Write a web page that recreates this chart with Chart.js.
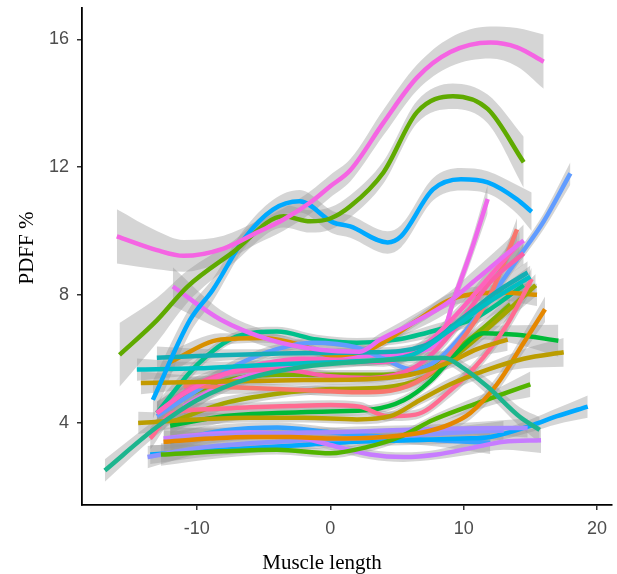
<!DOCTYPE html>
<html>
<head>
<meta charset="utf-8">
<style>
  html, body { margin: 0; padding: 0; background: #fff; }
  #chart { display: block; }
</style>
<script src="https://cdn.jsdelivr.net/npm/chart.js@4.4.1/dist/chart.umd.min.js"></script>
</head>
<body>
<canvas id="chart" width="617" height="574"></canvas>
<script>
"use strict";

// axis ticks
const xTicks = [-10, 0, 10, 20];
const yTicks = [4, 8, 12, 16];
const xTitle = "Muscle length";
const yTitle = "PDFF %";

// one entry per subject curve (loess fit + grey confidence band)
const lineColors = [
  "#F564E3", "#5FAA00", "#00A9FF", "#E76BF3",
  "#1DB58E", "#00BFC4", "#14AEB4", "#C49A00",
  "#BB9D00", "#FF62BC", "#FA5FA8", "#FF6C91",
  "#F8766D", "#E58700", "#53B400", "#00BA38",
  "#A58AFF", "#C77CFF", "#8B93FF", "#00A9FF",
  "#35A2FF", "#619CFF", "#A3A500", "#D89000",
  "#00C08B", "#EF67EB", "#7CAE00"
];

const lineX = [
  [-16, -13, -11, -8, -5.5, -3.5, -1.5, 0, 1.5, 4, 6.5, 9, 12, 14, 16],
  [-15.8, -13, -10.7, -7.3, -3.5, -1.5, 0, 1.5, 4, 6.5, 9.2, 11.8, 14.5],
  [-13.3, -10.5, -8.8, -6.5, -4.3, -2.3, 0.2, 1.5, 4.3, 5.3, 7.7, 9.8, 11.8, 14, 15.1],
  [-11.8, -8.2, -4.5, -0.75, 2.2, 3.75, 6.2, 8.8, 11, 13, 14.5],
  [-16.9, -13, -10, -6, -2, 2, 6, 8.5, 10, 11.8, 14.2, 15.7],
  [-14.5, -10, -6, -2, 2, 6, 9, 12, 15],
  [-13, -9, -5, -1, 3, 7, 10, 12.5, 14.8],
  [-14.2, -10, -6, -2, 2, 6, 9, 11, 13.3],
  [-14.4, -10, -6, -2, 2, 4.5, 6.7, 9, 11.8, 14.5, 17.5],
  [-13, -11, -8, -5, -2, 1, 4, 7, 9.5, 12, 14.2],
  [-13, -10, -7, -3.75, 0, 3, 6.2, 8, 10, 12, 14.5],
  [-13.5, -11.8, -9, -6, -3, 0, 2.2, 4.3, 6.4, 9, 11.5, 13.3, 15.1],
  [-11, -7, -4, -1, 2, 4.5, 7, 9.5, 12, 14],
  [-12.5, -9, -6, -3, 0, 4, 7, 9, 10.5, 12.5, 14.5, 16.1],
  [-12.7, -8, -4, 0, 2.8, 5.2, 7.7, 10.3, 12.7, 15],
  [-12, -8, -4, 0, 3, 5.5, 7.5, 9.5, 11.5, 14, 17.1],
  [-12, -8, -4, 0, 4, 8, 11, 14.8],
  [-12.5, -9, -6, -3, 0, 3, 5.5, 8, 10.5, 13, 15.8],
  [-13.7, -10, -6, -2, 2, 6, 10, 13],
  [-13.5, -10, -6, -2, 2, 6, 10, 12, 15, 17, 19.3],
  [-12, -8, -4, 0, 4, 8, 12],
  [-13, -10, -7, -4, -1.3, 2, 4, 6.2, 8, 10, 12, 14, 16, 18],
  [-12, -8, -4, 0, 4, 7, 10, 12.5, 15.4],
  [-12, -8.2, -5, -2, 0, 3, 6.5, 9, 12.7, 15.5],
  [-13, -10, -7, -4, -1, 2, 5, 8, 11, 14.5],
  [-11, -8, -4, 0, 3, 6, 8.25, 9.3, 10.5, 11.8],
  [-12, -8, -4, 0, 4, 8, 11, 13.5]
];

const lineY = [
  [9.83, 9.4, 9.22, 9.45, 9.95, 10.36, 10.89, 11.4, 11.9, 13.4, 14.8, 15.6, 15.9, 15.75, 15.3],
  [6.12, 7.2, 8.26, 9.33, 10.46, 10.3, 10.39, 10.77, 11.84, 13.72, 14.22, 13.82, 12.15],
  [4.71, 7.22, 8.16, 9.73, 10.67, 10.93, 10.27, 10.14, 9.64, 9.83, 11.3, 11.62, 11.52, 10.99, 10.6],
  [8.26, 7.22, 6.59, 6.28, 6.22, 6.6, 7.12, 7.75, 8.5, 9.2, 9.7],
  [2.5, 3.86, 4.7, 5.4, 5.75, 5.9, 6.0, 6.03, 5.7, 5.12, 4.18, 3.77],
  [5.66, 5.7, 5.78, 5.86, 5.92, 6.1, 6.9, 7.8, 8.57],
  [6.03, 6.1, 6.15, 6.18, 6.2, 6.4, 7.3, 8.1, 8.7],
  [5.24, 5.27, 5.3, 5.33, 5.35, 5.5, 5.9, 6.3, 6.6],
  [3.99, 4.1, 4.15, 4.15, 4.1, 4.2, 4.7, 5.2, 5.66, 6.0, 6.2],
  [4.3, 4.9, 5.5, 5.85, 6.0, 5.95, 5.9, 6.4, 7.4, 8.6, 9.64],
  [4.3, 5.2, 5.6, 5.66, 5.45, 5.4, 5.7, 6.3, 7.3, 8.4, 9.3],
  [3.5, 4.3, 4.42, 4.48, 4.52, 4.55, 4.5, 4.2, 4.25, 5.0, 6.05, 7.1, 8.5],
  [5.15, 5.1, 5.05, 5.0, 4.95, 5.0, 5.4, 6.4, 8.0, 10.05],
  [3.4, 3.5, 3.55, 3.55, 3.5, 3.55, 3.7, 3.95, 4.3, 5.2, 6.5, 7.55],
  [3.0, 3.1, 3.15, 3.04, 3.24, 3.55, 4.08, 4.5, 4.86, 5.2],
  [3.9, 4.2, 4.3, 4.35, 4.4, 4.7, 5.3, 6.2, 6.8, 6.75, 6.56],
  [3.51, 3.6, 3.67, 3.7, 3.75, 3.8, 3.82, 3.83],
  [3.5, 3.65, 3.7, 3.6, 3.3, 3.0, 2.92, 3.0, 3.2, 3.4, 3.45],
  [2.92, 3.2, 3.35, 3.45, 3.5, 3.6, 3.7, 3.75],
  [3.0, 3.1, 3.2, 3.3, 3.4, 3.45, 3.5, 3.55, 3.9, 4.2, 4.5],
  [3.4, 3.75, 3.85, 3.7, 3.55, 3.45, 3.37],
  [4.2, 5.0, 5.8, 6.3, 6.5, 6.35, 6.0, 5.66, 5.95, 6.8, 7.9, 9.1, 10.3, 11.8],
  [4.0, 4.6, 4.9, 5.05, 5.1, 5.4, 6.3, 7.2, 8.3],
  [5.9, 6.6, 6.65, 6.4, 6.1, 6.3, 7.2, 7.85, 8.07, 8.0],
  [4.3, 5.8, 6.7, 6.85, 6.6, 6.5, 6.6, 6.9, 7.3, 8.3],
  [4.5, 5.2, 5.7, 6.0, 6.1, 6.2, 6.6, 7.9, 9.3, 11.0],
  [4.6, 5.3, 5.5, 5.5, 5.5, 5.9, 6.8, 7.7]
];

// half-width of the grey band at each point
const lineSE = [
  [0.85, 0.6, 0.5, 0.4, 0.35, 0.35, 0.35, 0.35, 0.35, 0.4, 0.4, 0.45, 0.5, 0.6, 0.85],
  [1.0, 0.7, 0.5, 0.35, 0.35, 0.35, 0.35, 0.35, 0.35, 0.35, 0.4, 0.45, 0.8],
  [0.6, 0.4, 0.35, 0.3, 0.3, 0.35, 0.35, 0.35, 0.35, 0.35, 0.35, 0.35, 0.35, 0.45, 0.6],
  [0.6, 0.3, 0.25, 0.2, 0.2, 0.2, 0.25, 0.3, 0.35, 0.4, 0.5],
  [0.35, 0.25, 0.2, 0.15, 0.15, 0.15, 0.15, 0.2, 0.2, 0.25, 0.3, 0.4],
  [0.35, 0.2, 0.15, 0.15, 0.15, 0.15, 0.2, 0.2, 0.35],
  [0.35, 0.2, 0.15, 0.15, 0.15, 0.15, 0.2, 0.25, 0.35],
  [0.35, 0.2, 0.15, 0.15, 0.15, 0.15, 0.2, 0.25, 0.35],
  [0.35, 0.2, 0.15, 0.15, 0.15, 0.15, 0.15, 0.2, 0.2, 0.3, 0.45],
  [0.35, 0.25, 0.2, 0.15, 0.15, 0.15, 0.15, 0.2, 0.2, 0.25, 0.35],
  [0.35, 0.25, 0.2, 0.15, 0.15, 0.15, 0.15, 0.2, 0.2, 0.25, 0.35],
  [0.35, 0.25, 0.2, 0.15, 0.15, 0.15, 0.15, 0.15, 0.15, 0.2, 0.2, 0.25, 0.35],
  [0.3, 0.2, 0.15, 0.15, 0.15, 0.15, 0.2, 0.2, 0.25, 0.35],
  [0.35, 0.2, 0.15, 0.15, 0.15, 0.15, 0.15, 0.2, 0.2, 0.25, 0.3, 0.4],
  [0.35, 0.2, 0.15, 0.15, 0.15, 0.15, 0.15, 0.2, 0.25, 0.4],
  [0.35, 0.2, 0.15, 0.15, 0.15, 0.15, 0.15, 0.2, 0.2, 0.3, 0.5],
  [0.35, 0.2, 0.15, 0.15, 0.15, 0.15, 0.2, 0.3],
  [0.35, 0.2, 0.15, 0.15, 0.15, 0.15, 0.15, 0.15, 0.2, 0.25, 0.4],
  [0.35, 0.2, 0.15, 0.15, 0.15, 0.15, 0.2, 0.3],
  [0.3, 0.2, 0.15, 0.15, 0.15, 0.15, 0.15, 0.15, 0.2, 0.25, 0.35],
  [0.3, 0.2, 0.15, 0.15, 0.15, 0.2, 0.35],
  [0.35, 0.25, 0.2, 0.15, 0.15, 0.15, 0.15, 0.15, 0.15, 0.15, 0.2, 0.2, 0.25, 0.35],
  [0.35, 0.2, 0.15, 0.15, 0.15, 0.15, 0.2, 0.25, 0.35],
  [0.35, 0.2, 0.15, 0.15, 0.15, 0.15, 0.15, 0.2, 0.25, 0.35],
  [0.35, 0.2, 0.15, 0.15, 0.15, 0.15, 0.15, 0.2, 0.2, 0.35],
  [0.35, 0.2, 0.15, 0.15, 0.15, 0.15, 0.2, 0.25, 0.3, 0.45],
  [0.35, 0.2, 0.15, 0.15, 0.15, 0.15, 0.2, 0.3]
];

const bandColor = "rgba(150,150,150,0.4)";

function buildDatasets() {
  let bands = [];
  let lines = [];
  for (let i = 0; i < lineX.length; i++) {
    let upper = [], lower = [], mid = [];
    for (let j = 0; j < lineX[i].length; j++) {
      upper.push({ x: lineX[i][j], y: lineY[i][j] + lineSE[i][j] });
      lower.push({ x: lineX[i][j], y: lineY[i][j] - lineSE[i][j] });
      mid.push({ x: lineX[i][j], y: lineY[i][j] });
    }
    let common = { pointRadius: 0, cubicInterpolationMode: "monotone", order: 2, borderWidth: 0 };
    bands.push(Object.assign({ data: upper, fill: "+1", backgroundColor: bandColor, borderColor: "transparent" }, common));
    bands.push(Object.assign({ data: lower, fill: false, borderColor: "transparent" }, common));
    lines.push({
      data: mid, borderColor: lineColors[i], borderWidth: 4.5, pointRadius: 0,
      cubicInterpolationMode: "monotone", fill: false, order: 1
    });
  }
  return bands.concat(lines);
}

// axis titles drawn where the reference has them
const titlePlugin = {
  id: "axisTitles",
  afterDraw(chart) {
    let ctx = chart.ctx;
    ctx.save();
    ctx.fillStyle = "#000";
    ctx.font = "21px 'Liberation Serif'";
    ctx.textAlign = "center";
    ctx.textBaseline = "middle";
    ctx.fillText(xTitle, 322, 563);
    ctx.translate(27, 248);
    ctx.rotate(-Math.PI / 2);
    ctx.fillText(yTitle, 0, 0);
    ctx.restore();
  }
};

let chart;
function renderChart() {
  let ctx = document.getElementById("chart");
  chart = new Chart(ctx, {
    type: "line",
    data: { datasets: buildDatasets() },
    options: {
      responsive: false,
      animation: false,
      events: [],
      layout: { padding: { top: 8, right: 5, left: 0, bottom: 0 } },
      plugins: { legend: { display: false }, tooltip: { enabled: false } },
      scales: {
        x: {
          type: "linear",
          min: -18.61,
          max: 21.12,
          afterFit(scale) { scale.height = 69; scale.paddingLeft = 0; scale.paddingRight = 0; },
          afterBuildTicks(scale) { scale.ticks = xTicks.map(v => ({ value: v })); },
          border: { display: true, color: "#000", width: 1.8 },
          grid: { display: true, drawOnChartArea: false, drawTicks: true, tickLength: 5, color: "#333", lineWidth: 1.5 },
          ticks: { color: "#4d4d4d", font: { family: "'Liberation Sans'", size: 18 }, padding: 8, maxRotation: 0 }
        },
        y: {
          type: "linear",
          min: 1.42,
          max: 16.98,
          afterFit(scale) { scale.width = 82; scale.paddingTop = 0; scale.paddingBottom = 0; },
          afterBuildTicks(scale) { scale.ticks = yTicks.map(v => ({ value: v })); },
          border: { display: true, color: "#000", width: 1.8 },
          grid: { display: true, drawOnChartArea: false, drawTicks: true, tickLength: 5, color: "#333", lineWidth: 1.5 },
          ticks: { color: "#4d4d4d", font: { family: "'Liberation Sans'", size: 18 }, padding: 8 }
        }
      }
    },
    plugins: [titlePlugin]
  });
}

renderChart();
</script>
</body>
</html>
